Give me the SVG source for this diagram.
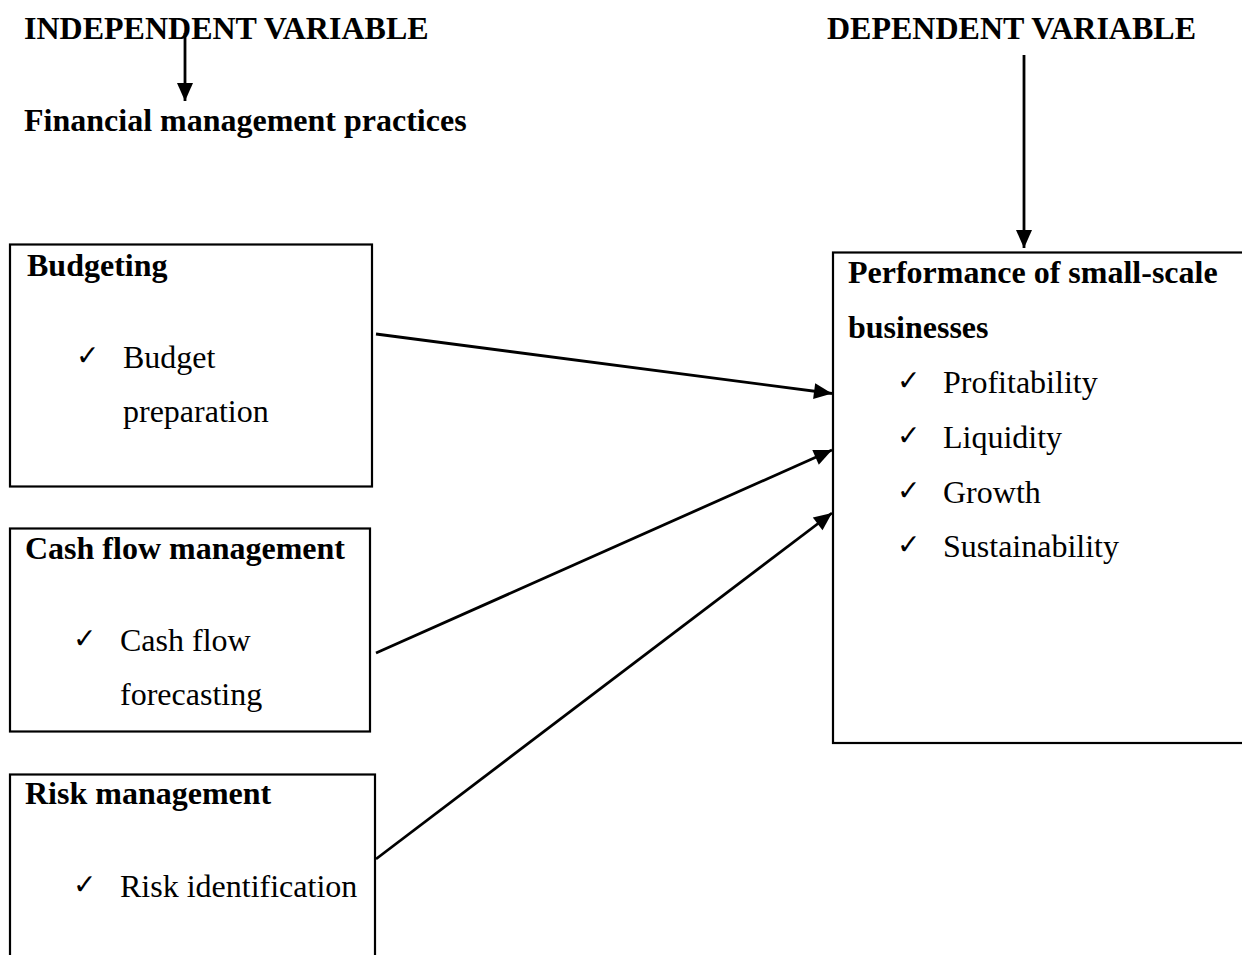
<svg xmlns="http://www.w3.org/2000/svg" width="1242" height="955" viewBox="0 0 1242 955">
<style>
  .t { font-family: "Liberation Serif", "Times New Roman", serif; font-size: 32px; fill: #000; }
  .b { font-weight: 700; }
  .ck { font-family: "DejaVu Sans", sans-serif; font-size: 28px; font-weight: 700; fill: #000; }
  .box { fill: none; stroke: #000; stroke-width: 2.2; }
  .con { stroke: #000; stroke-width: 2.8; fill: none; marker-end: url(#ah); }
</style>
<defs>
  <marker id="ah" markerUnits="userSpaceOnUse" markerWidth="20" markerHeight="18" refX="18" refY="8" orient="auto" overflow="visible">
    <path d="M0,0 L18,8 L0,16 z" fill="#000"/>
  </marker>
</defs>
<rect width="1242" height="955" fill="#fff"/>

<g id="independent-label">
  <text class="t b" x="24" y="39">INDEPENDENT VARIABLE</text>
  <text class="t b" x="24" y="131">Financial management practices</text>
</g>

<g id="dependent-label">
  <text class="t b" x="827" y="39">DEPENDENT VARIABLE</text>
</g>

<g id="budgeting">
  <rect class="box" x="10" y="244.5" width="362" height="242"/>
  <text class="t b" x="27" y="276">Budgeting</text>
  <text class="ck" x="76" y="365">✓</text>
  <text class="t" x="123" y="368">Budget</text>
  <text class="t" x="123" y="422">preparation</text>
</g>

<g id="cash-flow">
  <rect class="box" x="10" y="528.5" width="360" height="203"/>
  <text class="t b" x="25" y="559">Cash flow management</text>
  <text class="ck" x="73" y="648">✓</text>
  <text class="t" x="120" y="651">Cash flow</text>
  <text class="t" x="120" y="705">forecasting</text>
</g>

<g id="risk">
  <rect class="box" x="10" y="774.5" width="365" height="200"/>
  <text class="t b" x="25" y="804">Risk management</text>
  <text class="ck" x="73" y="894">✓</text>
  <text class="t" x="120" y="897">Risk identification</text>
</g>

<g id="performance">
  <rect class="box" x="833" y="252.5" width="420" height="490.5"/>
  <text class="t b" x="848" y="283">Performance of small-scale</text>
  <text class="t b" x="848" y="338">businesses</text>
  <text class="ck" x="897" y="390">✓</text>
  <text class="t" x="943" y="393">Profitability</text>
  <text class="ck" x="897" y="445">✓</text>
  <text class="t" x="943" y="448">Liquidity</text>
  <text class="ck" x="897" y="500">✓</text>
  <text class="t" x="943" y="503">Growth</text>
  <text class="ck" x="897" y="554">✓</text>
  <text class="t" x="943" y="557">Sustainability</text>
</g>

<g id="connectors">
  <line class="con" x1="185" y1="33" x2="185" y2="101"/>
  <line class="con" x1="1024" y1="55" x2="1024" y2="248"/>
  <line class="con" x1="376" y1="334" x2="832" y2="393.5"/>
  <line class="con" x1="376" y1="653" x2="832" y2="450"/>
  <line class="con" x1="376" y1="859" x2="832" y2="513"/>
</g>
</svg>
